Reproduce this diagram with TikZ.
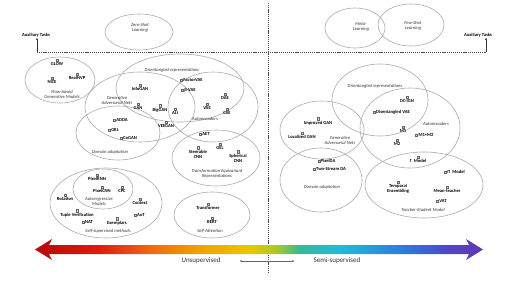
\documentclass[tikz,border=0pt]{standalone}
\usepackage{fontspec}
\setmainfont{Carlito}
\usetikzlibrary{arrows.meta}

\definecolor{barA}{HTML}{B80808}
\definecolor{barB}{HTML}{DD1A10}
\definecolor{barC}{HTML}{F06A10}
\definecolor{barD}{HTML}{F2A200}
\definecolor{barE}{HTML}{E6C800}
\definecolor{barF}{HTML}{A8C828}
\definecolor{barG}{HTML}{38B898}
\definecolor{barH}{HTML}{20BCD8}
\definecolor{barI}{HTML}{2A80E0}
\definecolor{barJ}{HTML}{5046CC}
\definecolor{barK}{HTML}{6236AE}
% the path is fitted to the 25bp--75bp part of the shading
\pgfdeclarehorizontalshading{spectrum}{100bp}{color(0bp)=(barA); color(25bp)=(barA); color(32bp)=(barB); color(38bp)=(barC); color(43.5bp)=(barD); color(49bp)=(barE); color(52bp)=(barF); color(54.5bp)=(barG); color(59bp)=(barH); color(65.5bp)=(barI); color(71bp)=(barJ); color(75bp)=(barK); color(100bp)=(barK)}

\newcommand{\itemfont}{\fontsize{4.6}{5}\selectfont\bfseries}
\newcommand{\groupfont}{\fontsize{4.6}{5.1}\selectfont\itshape}

\begin{document}
\begin{tikzpicture}[x=1pt, y=-1pt, >={Latex[length=2.5pt]},
	every node/.style={inner sep=0.3pt},
	grp/.style={draw=black!33, line width=0.6pt},
	doc/.style={draw=black!60, fill=black!15, minimum width=2pt, minimum height=2.6pt, inner sep=0pt, line width=0.25pt},
	item/.style={font=\itemfont, align=center, label={[doc]above:{}}},
	itemL/.style={font=\itemfont, align=center, label={[doc]left:{}}},
	tag/.style={font=\groupfont, text=black!80, align=center},
	sep/.style={black!70, line width=0.4pt, dash pattern=on 1.2pt off 0.9pt},
	label distance=0.4pt]
	\useasboundingbox (0,0) rectangle (513,281);

	% split between the two halves
	\draw[sep] (268,3) -- (268,272);
	\node[font=\fontsize{4.6}{5}\selectfont\bfseries] (auxL) at (36,35) {Auxiliary Tasks};
	\node[font=\fontsize{4.6}{5}\selectfont\bfseries] (auxR) at (478,35) {Auxiliary Tasks};
	\coordinate (cL) at (37,52);
	\coordinate (cR) at (486,52);
	\draw[sep] (cL) -- (cR);
	\draw[->, black!80, line width=0.4pt] (cL) -- (cL |- auxL.south);
	\draw[->, black!80, line width=0.4pt] (cR) -- (cR |- auxR.south);

	% unsupervised groups
	\draw[grp] (139,32) ellipse [x radius=34, y radius=18];
	\draw[grp] (60,80) ellipse [x radius=35, y radius=23];
	\draw[grp] (180,88) ellipse [x radius=64, y radius=34];
	\draw[grp] (140,107) ellipse [x radius=55, y radius=35];
	\draw[grp] (118,133) ellipse [x radius=42, y radius=27];
	\draw[grp] (213,107) ellipse [x radius=45, y radius=35];
	\draw[grp] (216,158) ellipse [x radius=44, y radius=28];
	\draw[grp] (212,215) ellipse [x radius=38, y radius=23];
	\draw[grp] (106,203) ellipse [x radius=56, y radius=35];
	\draw[grp] (103,189) ellipse [x radius=30, y radius=20];

	\node[tag] (zero) at (140,28) {Zero-Shot\\Learning};
	\node[tag] (flow) at (62,94) {Flow-based\\Generative Models};
	\node[item] (glow) at (57,64) {GLOW};
	\node[item] (realnvp) at (77,78) {RealNVP};
	\node[item] (nice) at (52,82) {NICE};

	\node[tag] (disL) at (172,70) {Disentangled representations};
	\node[item] (infogan) at (140,89) {InfoGAN};
	\node[itemL] (factorvae) at (193,80) {FactorVAE};
	\node[itemL] (betavae) at (190,90) {β-VAE};

	\node[tag] (ganL) at (117,100) {Generative\\Adversarial Nets};
	\node[item] (gan) at (138,108) {GAN};
	\node[item] (biggan) at (160,110) {BigGAN};
	\node[item] (ali) at (175,113) {ALI};
	\node[item] (veegan) at (166,126) {VEEGAN};

	\node[tag] (domL) at (110,152) {Domain adaptation};
	\node[itemL] (adda) at (122,120) {ADDA};
	\node[itemL] (grl) at (115,130) {GRL};
	\node[itemL] (cogan) at (130,138) {CoGAN};

	\node[tag] (aeL) at (205,119) {Autoencoders};
	\node[item] (vae) at (207,108) {VAE};
	\node[item] (dae) at (225,98) {DAE};
	\node[item] (cae) at (227,113) {CAE};
	\node[itemL] (aet) at (206,134) {AET};

	\node[tag] (teq) at (217,174) {Transformation Equivariant\\Representations};
	\node[item] (steer) at (198,154) {Steerable\\CNN};
	\node[item] (gel) at (220,148) {GEL};
	\node[item] (spher) at (238,158) {Spherical\\CNN};

	\node[tag] (att) at (210,231) {Self-Attention};
	\node[item] (transf) at (208,208) {Transformer};
	\node[item] (bert) at (212,222) {BERT};

	\node[tag] (selfsup) at (108,231) {Self-supervised methods};
	\node[tag] (autoreg) at (99,201) {Autoregressive\\Models};
	\node[item] (pixrnn) at (97,179) {PixelRNN};
	\node[item] (pixcnn) at (102,191) {PixelCNN};
	\node[item] (cpc) at (122,191) {CPC};
	\node[item] (rot) at (65,199) {Rotation};
	\node[item] (ctx) at (140,203) {Context};
	\node[item] (tuple) at (77,215) {Tuple Verification};
	\node[itemL] (aot) at (141,215) {AoT};
	\node[itemL] (nat) at (89,222) {NAT};
	\node[item] (exem) at (117,223) {Exemplars};

	% semi-supervised groups
	\draw[grp] (355,28) ellipse [x radius=30, y radius=20];
	\draw[grp] (411,25) ellipse [x radius=33, y radius=21];
	\draw[grp] (380,100) ellipse [x radius=48, y radius=36];
	\draw[grp] (322,130) ellipse [x radius=42, y radius=29];
	\draw[grp] (321,180) ellipse [x radius=41, y radius=32];
	\draw[grp] (410,128) ellipse [x radius=50, y radius=40];
	\draw[grp] (424,185) ellipse [x radius=59, y radius=33];

	\node[tag] (meta) at (361,27) {Meta-\\Learning};
	\node[tag] (fewshot) at (413,26) {Few-Shot\\Learning};

	\node[tag] (disR) at (375,86) {Disentangled representations};
	\node[item] (dcign) at (407,101) {DC-IGN};
	\node[itemL] (disvae) at (393,112) {Disentangled VAE};

	\node[tag] (ganR) at (340,140) {Generative\\Adversarial Nets};
	\node[item] (impgan) at (318,123) {Improved GAN};
	\node[item] (locgan) at (302,137) {Localized GAN};

	\node[tag] (domR) at (322,187) {Domain adaptation};
	\node[itemL] (pixda) at (328,161) {PixelDA};
	\node[itemL] (twoda) at (331,169) {Two-Stream DA};

	\node[tag] (aeR) at (436,124) {Autoencoders};
	\node[item] (mone) at (403,131) {M1};
	\node[itemL] (monetwo) at (426,135) {M1+M2};
	\node[item] (mtwo) at (397,144) {M2};
	\node[item] (gamma) at (418,161) {Γ\ \ Model};

	\node[tag] (ts) at (423,210) {Teacher-Student Model};
	\node[itemL] (pimod) at (456,172) {Π\ \ Model};
	\node[item] (temporal) at (398,189) {Temporal\\Ensembling};
	\node[item] (mteach) at (447,191) {Mean-teacher};
	\node[itemL] (vat) at (443,201) {VAT};

	% supervision scale
	\shade[shading=spectrum] (35,249.5) -- (52,239) -- (49,245) -- (469,245) -- (466,239) -- (483,249.5)
		-- (466,260) -- (469,254) -- (49,254) -- (52,260) -- cycle;
	\node[font=\fontsize{7}{8}\selectfont, text=black!80] (unsup) at (201,261) {Unsupervised};
	\node[font=\fontsize{7}{8}\selectfont, text=black!80] (semi) at (337,261) {Semi-supervised};
	\coordinate (tl) at (241,261);
	\coordinate (tr) at (293,261);
	\draw[black!60, line width=0.3pt] (tl) -- (tr);
	\fill[black!70] (tl) circle (0.9);
	\fill[black!70] (tr) circle (0.9);
\end{tikzpicture}
\end{document}
